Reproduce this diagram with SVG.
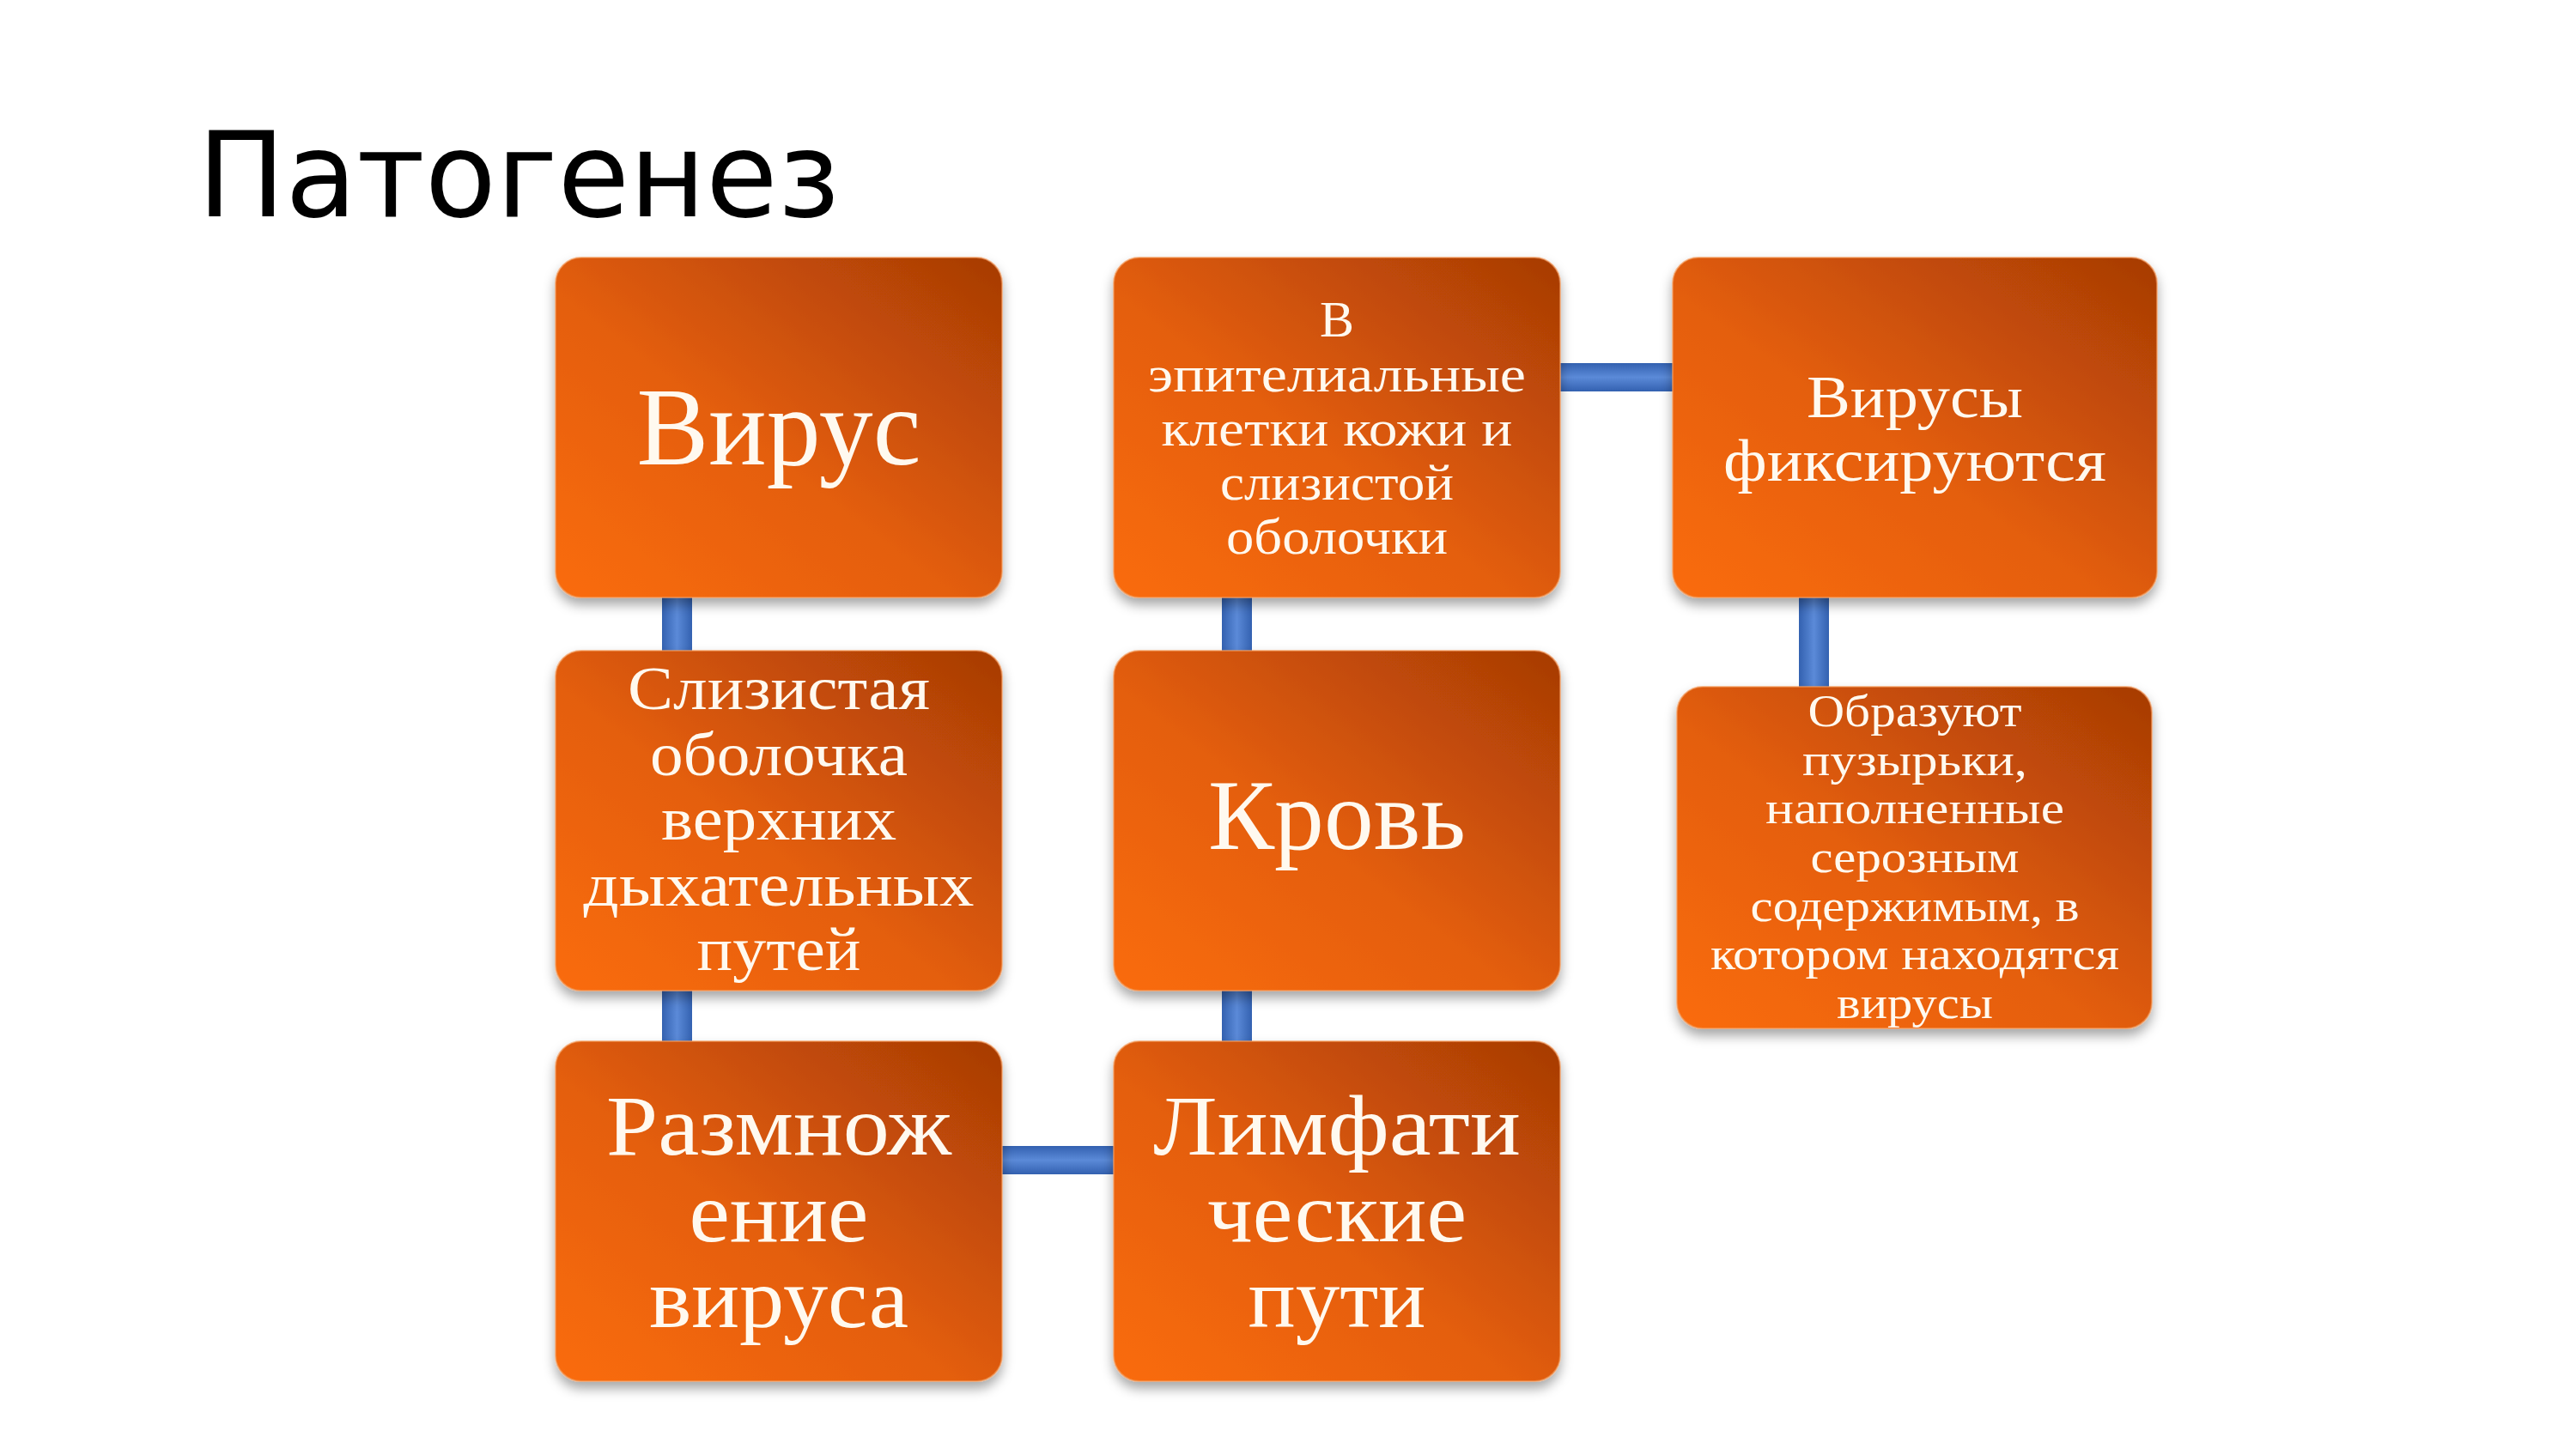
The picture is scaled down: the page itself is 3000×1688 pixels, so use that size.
<svg xmlns="http://www.w3.org/2000/svg" width="3000" height="1688" viewBox="0 0 3000 1688">
<defs>
<linearGradient id="boxFill" x1="0" y1="1" x2="1" y2="0">
<stop offset="0" stop-color="#fa6c0c"/>
<stop offset="0.45" stop-color="#e45e0a"/>
<stop offset="1" stop-color="#a63b05"/>
</linearGradient>
<linearGradient id="vBar" x1="0" y1="0" x2="1" y2="0">
<stop offset="0" stop-color="#3361b0"/>
<stop offset="0.5" stop-color="#5b8ad8"/>
<stop offset="1" stop-color="#3361b0"/>
</linearGradient>
<linearGradient id="hBar" x1="0" y1="0" x2="0" y2="1">
<stop offset="0" stop-color="#3361b0"/>
<stop offset="0.5" stop-color="#5b8ad8"/>
<stop offset="1" stop-color="#3361b0"/>
</linearGradient>
<filter id="shadow" x="-10%" y="-10%" width="120%" height="125%">
<feDropShadow dx="0" dy="8" stdDeviation="7" flood-color="#000" flood-opacity="0.35"/>
</filter>
</defs>
<style>
.box{fill:url(#boxFill);stroke:#f39a5a;stroke-width:2;stroke-opacity:0.6;filter:url(#shadow)}
.t{font-family:"Liberation Serif","DejaVu Serif",serif;fill:#fff9ef;text-anchor:middle}
.title{font-family:"DejaVu Sans","Liberation Sans",sans-serif;fill:#000;font-size:138px}
</style>
<rect width="3000" height="1688" fill="#ffffff"/>
<text class="title" x="230" y="252" textLength="748" lengthAdjust="spacingAndGlyphs">Патогенез</text>
<g id="connectors">
<rect x="771" y="690" width="35" height="74" fill="url(#vBar)"/>
<rect x="771" y="1148" width="35" height="72" fill="url(#vBar)"/>
<rect x="1423" y="690" width="35" height="74" fill="url(#vBar)"/>
<rect x="1423" y="1148" width="35" height="72" fill="url(#vBar)"/>
<rect x="2095" y="690" width="35" height="116" fill="url(#vBar)"/>
<rect x="1810" y="423" width="145" height="33" fill="url(#hBar)"/>
<rect x="1160" y="1335" width="145" height="33" fill="url(#hBar)"/>
</g>
<g id="n1"><rect class="box" x="647" y="300" width="520" height="396" rx="30"/>
<text class="t" x="907" y="541" font-size="130" textLength="331" lengthAdjust="spacingAndGlyphs">Вирус</text></g>
<g id="n2"><rect class="box" x="1297" y="300" width="520" height="396" rx="30"/>
<text class="t" font-size="60"><tspan x="1557" y="392">В</tspan><tspan x="1557" y="456" textLength="440" lengthAdjust="spacingAndGlyphs">эпителиальные</tspan><tspan x="1557" y="519" textLength="409" lengthAdjust="spacingAndGlyphs">клетки кожи и</tspan><tspan x="1557" y="582" textLength="272" lengthAdjust="spacingAndGlyphs">слизистой</tspan><tspan x="1557" y="645" textLength="258" lengthAdjust="spacingAndGlyphs">оболочки</tspan></text></g>
<g id="n3"><rect class="box" x="1948" y="300" width="564" height="396" rx="30"/>
<text class="t" font-size="70"><tspan x="2230" y="486" textLength="252" lengthAdjust="spacingAndGlyphs">Вирусы</tspan><tspan x="2230" y="560" textLength="446" lengthAdjust="spacingAndGlyphs">фиксируются</tspan></text></g>
<g id="n4"><rect class="box" x="647" y="758" width="520" height="396" rx="30"/>
<text class="t" font-size="72"><tspan x="907" y="826" textLength="352" lengthAdjust="spacingAndGlyphs">Слизистая</tspan><tspan x="907" y="903" textLength="300" lengthAdjust="spacingAndGlyphs">оболочка</tspan><tspan x="907" y="978" textLength="274" lengthAdjust="spacingAndGlyphs">верхних</tspan><tspan x="907" y="1055" textLength="455" lengthAdjust="spacingAndGlyphs">дыхательных</tspan><tspan x="907" y="1130" textLength="191" lengthAdjust="spacingAndGlyphs">путей</tspan></text></g>
<g id="n5"><rect class="box" x="1297" y="758" width="520" height="396" rx="30"/>
<text class="t" x="1557" y="989" font-size="116" textLength="300" lengthAdjust="spacingAndGlyphs">Кровь</text></g>
<g id="n6"><rect class="box" x="1953" y="800" width="553" height="398" rx="30"/>
<text class="t" font-size="52"><tspan x="2230" y="846" textLength="249" lengthAdjust="spacingAndGlyphs">Образуют</tspan><tspan x="2230" y="903" textLength="262" lengthAdjust="spacingAndGlyphs">пузырьки,</tspan><tspan x="2230" y="959" textLength="348" lengthAdjust="spacingAndGlyphs">наполненные</tspan><tspan x="2230" y="1016" textLength="243" lengthAdjust="spacingAndGlyphs">серозным</tspan><tspan x="2230" y="1073" textLength="383" lengthAdjust="spacingAndGlyphs">содержимым, в</tspan><tspan x="2230" y="1129" textLength="476" lengthAdjust="spacingAndGlyphs">котором находятся</tspan><tspan x="2230" y="1186" textLength="182" lengthAdjust="spacingAndGlyphs">вирусы</tspan></text></g>
<g id="n7"><rect class="box" x="647" y="1213" width="520" height="396" rx="30"/>
<text class="t" font-size="100"><tspan x="907" y="1345" textLength="402" lengthAdjust="spacingAndGlyphs">Размнож</tspan><tspan x="907" y="1446" textLength="209" lengthAdjust="spacingAndGlyphs">ение</tspan><tspan x="907" y="1546" textLength="302" lengthAdjust="spacingAndGlyphs">вируса</tspan></text></g>
<g id="n8"><rect class="box" x="1297" y="1213" width="520" height="396" rx="30"/>
<text class="t" font-size="100"><tspan x="1557" y="1345" textLength="428" lengthAdjust="spacingAndGlyphs">Лимфати</tspan><tspan x="1557" y="1446" textLength="302" lengthAdjust="spacingAndGlyphs">ческие</tspan><tspan x="1557" y="1546" textLength="207" lengthAdjust="spacingAndGlyphs">пути</tspan></text></g>
</svg>
